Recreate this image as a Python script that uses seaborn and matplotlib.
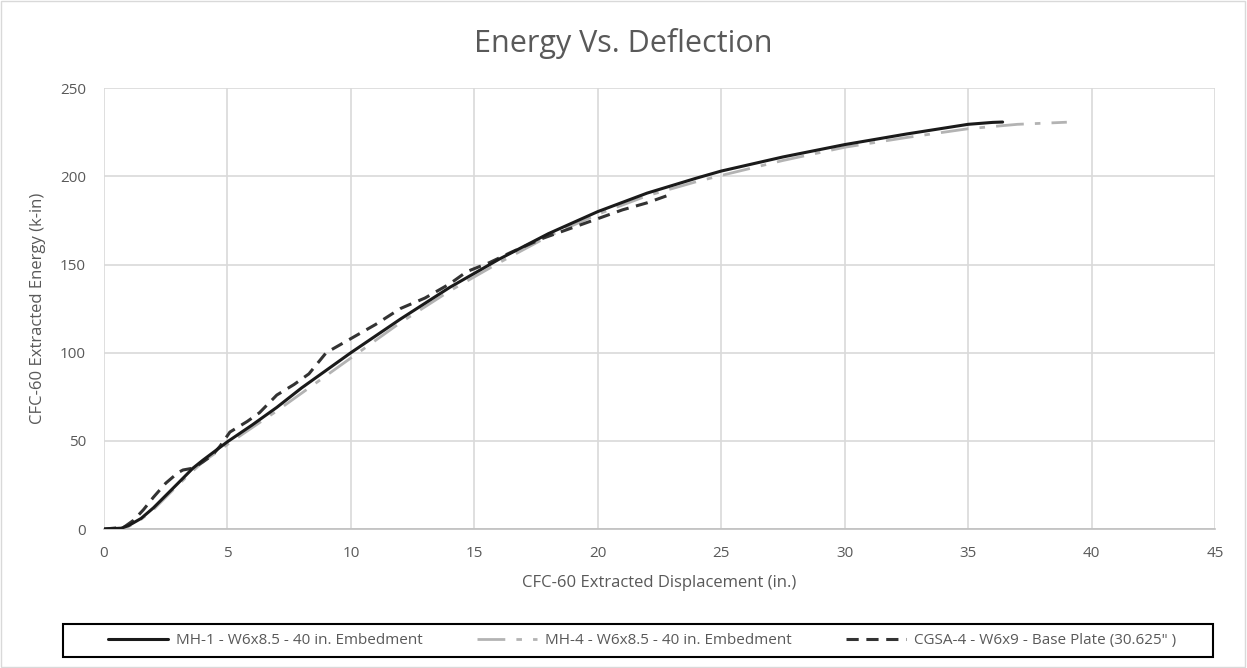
import pandas as pd
import matplotlib.pyplot as plt
import seaborn as sns
from matplotlib.patches import Rectangle

# Data
mh1_x = [0, 0.7, 1.0, 1.5, 2.0, 2.5, 3.0, 3.6, 4.0, 5.0, 6.0, 7.0, 8.0, 9.0, 10.0,
         12.0, 14.0, 15.0, 16.0, 18.0, 20.0, 22.0, 24.0, 25.0, 27.5, 30.0, 32.5,
         35.0, 36.0, 36.4]
mh1_y = [0, 0.5, 2, 6, 12, 19, 26, 34.5, 39, 49.5, 59, 69, 80, 90, 100,
         119, 137, 145, 153, 167.5, 180, 190.5, 199, 203, 211, 218, 224,
         229.5, 230.6, 230.8]

mh4_x = [0, 0.7, 1.0, 1.5, 2.0, 2.5, 3.0, 3.6, 4.0, 5.0, 6.0, 7.0, 8.0, 9.0, 10.0,
         12.0, 14.0, 15.0, 16.0, 18.0, 20.0, 22.0, 24.0, 25.0, 27.5, 30.0, 32.5,
         35.0, 37.0, 39.0]
mh4_y = [0, 0.3, 1.5, 5.5, 11, 18, 25, 33, 38, 48, 57.5, 67, 77, 87, 97,
         117, 135, 143, 151, 166, 178.5, 189, 197, 200.5, 209, 216.5, 222,
         227, 229.5, 230.7]

cgsa_x = [0, 0.8, 1.2, 1.6, 2.0, 2.5, 3.0, 3.2, 3.6, 4.0, 4.4, 4.7, 5.1, 5.8, 6.3,
          7.0, 7.7, 8.3, 9.0, 10.0, 11.0, 12.0, 13.0, 14.0, 14.7, 15.6, 16.5,
          17.8, 19.0, 20.0, 21.0, 22.0, 22.8]
cgsa_y = [0, 1, 5, 11, 18, 26, 32, 33.5, 34.5, 38, 42, 47, 55, 61, 66,
          76, 82, 88, 100, 108, 116, 125, 131, 139, 146, 151, 157,
          165, 171, 176, 181, 185, 189]

labels = ["MH-1 - W6x8.5 - 40 in. Embedment",
          "MH-4 - W6x8.5 - 40 in. Embedment",
          "CGSA-4 - W6x9 - Base Plate (30.625\" )"]

sns.set_theme(style="white")
plt.rcParams['font.family'] = ['Open Sans', 'DejaVu Sans']
txt = '#595959'

fig = plt.figure(figsize=(12.47, 6.68), dpi=100)
ax = fig.add_axes([0.0834, 0.208, 0.8909, 0.660])

df1 = pd.DataFrame({'x': mh1_x, 'y': mh1_y})
df4 = pd.DataFrame({'x': mh4_x, 'y': mh4_y})
dfc = pd.DataFrame({'x': cgsa_x, 'y': cgsa_y})

sns.lineplot(data=df1, x='x', y='y', ax=ax, color='#1a1a1a', lw=2.2,
             sort=False, label=labels[0], legend=False)
sns.lineplot(data=df4, x='x', y='y', ax=ax, color='#b3b3b3', lw=2.0,
             sort=False, label=labels[1], legend=False)
ax.lines[-1].set_dashes([10, 4, 2, 4])
sns.lineplot(data=dfc, x='x', y='y', ax=ax, color='#333333', lw=2.2,
             sort=False, label=labels[2], legend=False)
ax.lines[-1].set_dashes([4, 2.5])
ax.lines[0].set_zorder(4)

ax.set_xlim(0, 45)
ax.set_ylim(0, 250)
ax.set_xticks(range(0, 46, 5))
ax.set_yticks(range(0, 251, 50))
ax.grid(True, color='#d9d9d9', lw=1.2)
ax.set_axisbelow(True)
for s in ['top', 'right', 'left']:
    ax.spines[s].set_visible(False)
ax.spines['bottom'].set_color('#bfbfbf')
ax.spines['bottom'].set_linewidth(1.2)
ax.tick_params(axis='both', colors=txt, labelsize=11, length=0)
ax.tick_params(axis='x', pad=12)
ax.tick_params(axis='y', pad=13)

ax.set_xlabel('CFC-60 Extracted Displacement (in.)', color=txt, fontsize=12, labelpad=10)
ax.set_ylabel('CFC-60 Extracted Energy (k-in)', color=txt, fontsize=12, labelpad=10)
fig.text(0.5, 0.935, 'Energy Vs. Deflection', ha='center', va='center',
         color=txt, fontsize=22)

# legend without its own frame; the box is drawn separately
handles = ax.get_lines()[:3]
leg = fig.legend(handles, labels, loc='center', ncol=3,
                 bbox_to_anchor=(642 / 1247, 1 - 640.5 / 668),
                 frameon=False, fontsize=11, handlelength=3.9,
                 handletextpad=0.5, columnspacing=3.6)
for t in leg.get_texts():
    t.set_color(txt)
fig.patches.append(Rectangle((63 / 1247, 1 - 657 / 668), 1150 / 1247, 33 / 668,
                             transform=fig.transFigure, fill=False,
                             edgecolor='black', lw=1.5))

fig.patches.append(Rectangle((0.001, 0.002), 0.997, 0.996, transform=fig.transFigure,
                             fill=False, edgecolor='#d9d9d9', lw=1))

fig.savefig('out.png', dpi=100)
